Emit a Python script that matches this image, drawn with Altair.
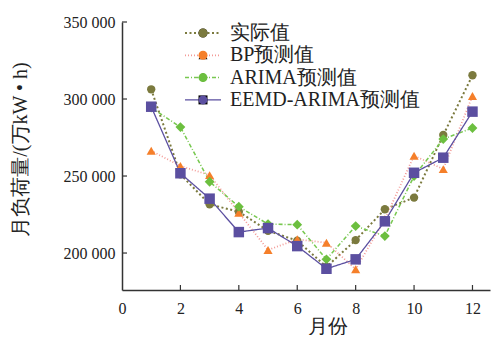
import altair as alt
import pandas as pd

months = list(range(1, 13))
actual = [306300, 251100, 231600, 226800, 214500, 208000, 191000, 208400, 228400, 236000, 276600, 315400]
bp = [266400, 256500, 250600, 226200, 202000, 208900, 206700, 189500, 221900, 263200, 254500, 302000]
arima = [294400, 281800, 246300, 230100, 218800, 218400, 195900, 217500, 211000, 250000, 274000, 281200]
eemd = [295000, 251800, 235300, 213600, 216200, 204500, 189800, 195900, 220600, 252100, 261900, 291800]

series_names = ["实际值", "BP预测值", "ARIMA预测值", "EEMD-ARIMA预测值"]
marker_colors = ["#7b7a3e", "#f57f2a", "#6cbf3f", "#5b4fa0"]
line_colors = ["#7b7a3e", "#f39a96", "#78c850", "#5b4fa0"]
dashes = [[2, 2.5], [1, 2], [4, 2, 1, 2], [1, 0]]
widths = [2.0, 1.3, 1.4, 1.6]
shapes = ["circle", "triangle-up", "diamond", "square"]
sizes = [70, 110, 100, 75]
x_ticks = [0, 2, 4, 6, 8, 10, 12]
y_ticks = [200000, 250000, 300000, 350000]

rows = []
for name, vals in zip(series_names, [actual, bp, arima, eemd]):
    for m, v in zip(months, vals):
        rows.append({"month": m, "load": v, "series": name, "series_p": name})
df = pd.DataFrame(rows)

FONT = "serif"
TXT = "#222222"
W, H = 368, 268

x_scale = alt.Scale(domain=[0, 12.6], nice=False, zero=False)
y_scale = alt.Scale(domain=[176000, 350000], nice=False, zero=False)

x_axis = alt.Axis(values=x_ticks, ticks=False, grid=False, domainColor="#333333", domainWidth=1.5,
                  labelFont=FONT, labelFontSize=16, labelColor=TXT, labelPadding=10,
                  labelFlush=False, labelOverlap=False,
                  title="月份", titleFont=FONT, titleFontSize=20, titleFontWeight="normal",
                  titleColor=TXT, titleX=205, titleY=36, titleAlign="center", titleBaseline="middle")
y_axis = alt.Axis(values=y_ticks, ticks=False, grid=False, domainColor="#333333", domainWidth=1.5,
                  labelFont=FONT, labelFontSize=16, labelColor=TXT, labelPadding=7,
                  labelExpr="replace(format(datum.value, ','), ',', ' ')",
                  labelFlush=False, labelOverlap=False,
                  title="月负荷量/(万kW • h)", titleFont=FONT, titleFontSize=20, titleFontWeight="normal",
                  titleColor=TXT, titleAngle=270, titleX=-102, titleY=127, titleAlign="center",
                  titleBaseline="middle")

x_enc = alt.X("month:Q", scale=x_scale, axis=x_axis)
y_enc = alt.Y("load:Q", scale=y_scale, axis=y_axis)

LINE_PATH = "M-4,0H4"
line_legend = alt.Legend(title=None, orient="none", legendX=71, legendY=1, padding=0,
                         symbolType=LINE_PATH, symbolSize=81, symbolStrokeWidth=1.8,
                         symbolFillColor="transparent",
                         labelFont=FONT, labelFontSize=20, labelColor=TXT, labelOffset=17,
                         rowPadding=2.3, labelLimit=400)
point_legend = alt.Legend(title=None, orient="none", legendX=71, legendY=1, padding=0,
                          symbolSize=81, symbolStrokeWidth=0, labelOpacity=0,
                          labelFont=FONT, labelFontSize=20, labelOffset=17,
                          rowPadding=2.3, labelLimit=400)

lines = alt.Chart(df).mark_line().encode(
    x=x_enc, y=y_enc,
    stroke=alt.Stroke("series:N", scale=alt.Scale(domain=series_names, range=line_colors), legend=line_legend),
    strokeDash=alt.StrokeDash("series:N", scale=alt.Scale(domain=series_names, range=dashes), legend=line_legend),
    strokeWidth=alt.StrokeWidth("series:N", scale=alt.Scale(domain=series_names, range=widths), legend=None),
)

points = alt.Chart(df).mark_point(filled=True, opacity=1).encode(
    x=x_enc, y=y_enc,
    fill=alt.Fill("series_p:N", sort=series_names, scale=alt.Scale(range=marker_colors), legend=point_legend),
    shape=alt.Shape("series_p:N", sort=series_names, scale=alt.Scale(range=shapes), legend=point_legend),
    size=alt.Size("series_p:N", sort=series_names, scale=alt.Scale(range=sizes), legend=None),
)

xt = alt.Chart(pd.DataFrame({"month": x_ticks[1:]})).mark_rule(color="#333333", strokeWidth=1.2).encode(
    x=x_enc, y=alt.value(H), y2=alt.value(H - 5))
yt = alt.Chart(pd.DataFrame({"load": y_ticks})).mark_rule(color="#333333", strokeWidth=1.2).encode(
    y=y_enc, x=alt.value(0), x2=alt.value(5))

chart = alt.layer(xt, yt, lines, points).properties(
    width=W, height=H,
    padding={"left": 114, "top": 14, "right": 2, "bottom": 45},
    autosize=alt.AutoSizeParams(type="none"),
    background="white",
).configure(font=FONT).configure_view(stroke=None)

chart.save("out.html", embed_options={"renderer": "svg", "actions": False})
